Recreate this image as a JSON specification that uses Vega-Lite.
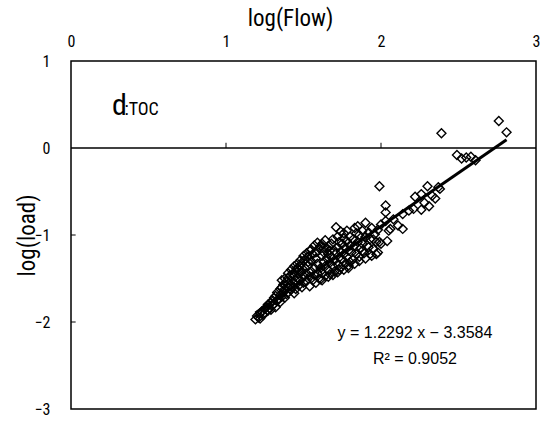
{
  "$schema": "https://vega.github.io/schema/vega-lite/v6.json",
  "width": 465,
  "height": 348,
  "autosize": {"type": "none"},
  "padding": {"left": 71, "top": 61, "right": 9, "bottom": 17},
  "background": "white",
  "config": {
    "view": {"stroke": "black", "strokeWidth": 1.5},
    "font": "Liberation Sans Narrow, Roboto Condensed, Liberation Sans, Arial, sans-serif"
  },
  "data": {"values": [{}]},
  "datasets": {
    "pts": [
      {"x":1.19,"y":-1.97},{"x":1.2,"y":-1.93},{"x":1.21,"y":-1.95},{"x":1.22,"y":-1.9},{"x":1.22,"y":-1.96},{"x":1.23,"y":-1.88},{"x":1.24,"y":-1.92},{"x":1.25,"y":-1.85},{"x":1.25,"y":-1.89},{"x":1.26,"y":-1.83},{"x":1.27,"y":-1.87},{"x":1.27,"y":-1.8},{"x":1.28,"y":-1.84},{"x":1.29,"y":-1.78},{"x":1.29,"y":-1.86},{"x":1.3,"y":-1.75},{"x":1.3,"y":-1.81},{"x":1.31,"y":-1.72},{"x":1.31,"y":-1.79},{"x":1.32,"y":-1.83},
      {"x":1.32,"y":-1.7},{"x":1.33,"y":-1.76},{"x":1.33,"y":-1.66},{"x":1.34,"y":-1.73},{"x":1.35,"y":-1.62},{"x":1.35,"y":-1.69},{"x":1.35,"y":-1.77},{"x":1.36,"y":-1.6},{"x":1.36,"y":-1.71},{"x":1.37,"y":-1.57},{"x":1.37,"y":-1.66},{"x":1.38,"y":-1.62},{"x":1.38,"y":-1.72},{"x":1.39,"y":-1.54},{"x":1.39,"y":-1.68},{"x":1.4,"y":-1.5},{"x":1.4,"y":-1.6},{"x":1.4,"y":-1.66},{"x":1.41,"y":-1.47},{"x":1.41,"y":-1.58},{"x":1.42,"y":-1.63},{"x":1.42,"y":-1.53},{"x":1.43,"y":-1.45},{"x":1.43,"y":-1.6},{"x":1.44,"y":-1.56},{"x":1.44,"y":-1.67},{"x":1.45,"y":-1.41},{"x":1.45,"y":-1.52},{"x":1.45,"y":-1.62},
      {"x":1.46,"y":-1.38},{"x":1.46,"y":-1.49},{"x":1.47,"y":-1.58},{"x":1.47,"y":-1.44},{"x":1.48,"y":-1.35},{"x":1.48,"y":-1.52},{"x":1.49,"y":-1.42},{"x":1.49,"y":-1.6},{"x":1.5,"y":-1.3},{"x":1.5,"y":-1.47},{"x":1.5,"y":-1.55},{"x":1.51,"y":-1.38},{"x":1.52,"y":-1.44},{"x":1.52,"y":-1.53},{"x":1.53,"y":-1.25},{"x":1.53,"y":-1.35},{"x":1.54,"y":-1.18},{"x":1.54,"y":-1.48},{"x":1.54,"y":-1.59},{"x":1.55,"y":-1.3},{"x":1.55,"y":-1.42},{"x":1.56,"y":-1.22},{"x":1.56,"y":-1.52},{"x":1.57,"y":-1.38},{"x":1.57,"y":-1.46},{"x":1.58,"y":-1.27},{"x":1.58,"y":-1.55},{"x":1.59,"y":-1.33},{"x":1.59,"y":-1.44},{"x":1.6,"y":-1.15},{"x":1.6,"y":-1.5},{"x":1.61,"y":-1.13},{"x":1.61,"y":-1.38},{"x":1.61,"y":-1.51},
      {"x":1.62,"y":-1.24},{"x":1.62,"y":-1.44},{"x":1.63,"y":-1.31},{"x":1.63,"y":-1.2},{"x":1.64,"y":-1.47},{"x":1.64,"y":-1.36},{"x":1.65,"y":-1.16},{"x":1.65,"y":-1.27},{"x":1.66,"y":-1.4},{"x":1.66,"y":-1.22},{"x":1.67,"y":-1.45},{"x":1.67,"y":-1.32},{"x":1.68,"y":-1.1},{"x":1.68,"y":-1.25},{"x":1.69,"y":-1.36},{"x":1.7,"y":-1.18},{"x":1.7,"y":-1.29},{"x":1.7,"y":-1.42},{"x":1.71,"y":-0.91},{"x":1.71,"y":-1.21},{"x":1.72,"y":-1.34},{"x":1.72,"y":-1.14},{"x":1.73,"y":-1.26},{"x":1.73,"y":-1.4},{"x":1.74,"y":-0.96},{"x":1.74,"y":-1.19},{"x":1.74,"y":-1.37},{"x":1.75,"y":-1.1},{"x":1.75,"y":-1.28},{"x":1.76,"y":-1.04},{"x":1.76,"y":-1.22},{"x":1.77,"y":-1.33},{"x":1.77,"y":-1.15},{"x":1.78,"y":-1.07},{"x":1.78,"y":-1.25},{"x":1.79,"y":-1.18},{"x":1.79,"y":-1.35},{"x":1.8,"y":-1.02},{"x":1.8,"y":-1.12},{"x":1.8,"y":-1.31},
      {"x":1.81,"y":-1.2},{"x":1.82,"y":-1.05},{"x":1.82,"y":-1.28},{"x":1.83,"y":-1.12},{"x":1.84,"y":-0.98},{"x":1.84,"y":-1.22},{"x":1.85,"y":-1.08},{"x":1.86,"y":-1.25},{"x":1.86,"y":-1.0},{"x":1.87,"y":-1.15},{"x":1.88,"y":-0.95},{"x":1.88,"y":-1.1},{"x":1.89,"y":-1.21},{"x":1.9,"y":-0.86},{"x":1.9,"y":-1.02},{"x":1.91,"y":-1.12},{"x":1.92,"y":-0.97},{"x":1.93,"y":-1.22},{"x":1.93,"y":-1.05},{"x":1.94,"y":-0.92},{"x":1.95,"y":-1.16},{"x":1.96,"y":-0.99},{"x":1.97,"y":-1.08},{"x":1.98,"y":-1.2},{"x":1.98,"y":-0.94},{"x":1.99,"y":-0.44},{"x":1.99,"y":-1.08},{"x":2.0,"y":-0.88},
      {"x":1.36,"y":-1.52},{"x":1.38,"y":-1.5},{"x":1.4,"y":-1.44},{"x":1.42,"y":-1.4},{"x":1.44,"y":-1.36},{"x":1.46,"y":-1.33},{"x":1.48,"y":-1.29},{"x":1.5,"y":-1.24},{"x":1.52,"y":-1.21},{"x":1.55,"y":-1.17},{"x":1.57,"y":-1.12},{"x":1.59,"y":-1.09},{"x":1.62,"y":-1.1},{"x":1.64,"y":-1.06},{"x":1.66,"y":-1.13},{"x":1.69,"y":-1.05},{"x":1.72,"y":-1.02},{"x":1.58,"y":-1.2},{"x":1.51,"y":-1.28},{"x":1.44,"y":-1.46},{"x":1.47,"y":-1.4},{"x":1.53,"y":-1.31},{"x":1.63,"y":-1.15},{"x":1.67,"y":-1.18},{"x":1.73,"y":-1.08},{"x":1.76,"y":-0.98},{"x":1.78,"y":-0.95},{"x":1.83,"y":-0.92},{"x":1.85,"y":-0.9},
      {"x":1.62,"y":-1.52},{"x":1.66,"y":-1.48},{"x":1.69,"y":-1.46},{"x":1.72,"y":-1.43},{"x":1.76,"y":-1.4},{"x":1.79,"y":-1.38},{"x":1.83,"y":-1.33},{"x":1.86,"y":-1.3},{"x":1.9,"y":-1.27},{"x":1.94,"y":-1.24},{"x":1.97,"y":-1.22},{"x":2.0,"y":-1.1},{"x":1.88,"y":-1.18},{"x":1.92,"y":-1.14},{"x":1.95,"y":-1.05},
      {"x":2.03,"y":-0.66},{"x":2.03,"y":-0.74},{"x":2.03,"y":-0.84},{"x":2.04,"y":-1.07},{"x":2.05,"y":-0.95},{"x":2.06,"y":-0.93},{"x":2.08,"y":-0.82},{"x":2.11,"y":-0.89},{"x":2.14,"y":-0.76},{"x":2.14,"y":-0.93},{"x":2.18,"y":-0.72},{"x":2.21,"y":-0.7},{"x":2.22,"y":-0.56},{"x":2.26,"y":-0.53},{"x":2.26,"y":-0.71},{"x":2.28,"y":-0.63},{"x":2.3,"y":-0.44},{"x":2.31,"y":-0.67},{"x":2.33,"y":-0.55},{"x":2.35,"y":-0.58},{"x":2.37,"y":-0.45},{"x":2.38,"y":-0.47},{"x":2.39,"y":0.17},
      {"x":2.49,"y":-0.08},{"x":2.52,"y":-0.12},{"x":2.55,"y":-0.11},{"x":2.58,"y":-0.1},{"x":2.61,"y":-0.14},{"x":2.76,"y":0.31},{"x":2.81,"y":0.18}
    ],
    "fit": [{"x":1.19,"y":-1.896},{"x":2.81,"y":0.0957}],
    "xticks": [{"t":1},{"t":2}],
    "yticks": [{"t":-1},{"t":-2}]
  },
  "layer": [
    {
      "data": {"name": "pts"},
      "mark": {"type": "point", "shape": "diamond", "filled": false, "stroke": "black", "strokeWidth": 1.4, "size": 80, "opacity": 1},
      "encoding": {
        "x": {"field": "x", "type": "quantitative", "scale": {"domain": [0, 3], "nice": false, "zero": false},
          "axis": {"orient": "top", "title": "log(Flow)", "values": [0, 1, 2, 3], "format": "d", "domain": false, "ticks": false, "grid": false,
            "labelFontSize": 16, "labelColor": "black", "labelPadding": 12, "labelFlush": false,
            "titleFontSize": 23, "titleFontWeight": "normal", "titleColor": "black", "titlePadding": 3, "titleX": 219}},
        "y": {"field": "y", "type": "quantitative", "scale": {"domain": [-3, 1], "nice": false, "zero": false},
          "axis": {"orient": "left", "title": "log(load)", "values": [-3, -2, -1, 0, 1], "format": "d", "domain": false, "ticks": false, "grid": false,
            "labelFontSize": 16, "labelColor": "black", "labelPadding": 21, "labelFlush": false,
            "titleFontSize": 23, "titleFontWeight": "normal", "titleColor": "black", "titleX": -44, "titleBaseline": "middle", "titleAlign": "center"}}
      }
    },
    {
      "mark": {"type": "rule", "color": "black", "strokeWidth": 1.5},
      "encoding": {"y": {"datum": 0}}
    },
    {
      "data": {"name": "xticks"},
      "mark": {"type": "rule", "color": "black", "strokeWidth": 1},
      "encoding": {"x": {"field": "t", "type": "quantitative"}, "y": {"datum": 0}, "y2": {"datum": 0.06}}
    },
    {
      "data": {"name": "yticks"},
      "mark": {"type": "rule", "color": "black", "strokeWidth": 1},
      "encoding": {"y": {"field": "t", "type": "quantitative"}, "x": {"datum": 0}, "x2": {"datum": 0.03}}
    },
    {
      "data": {"name": "fit"},
      "mark": {"type": "line", "color": "black", "strokeWidth": 3},
      "encoding": {"x": {"field": "x", "type": "quantitative"}, "y": {"field": "y", "type": "quantitative"}}
    },
    {
      "mark": {"type": "text", "text": "d", "fontSize": 30, "align": "left", "baseline": "alphabetic", "color": "black"},
      "encoding": {"x": {"datum": 0.2645}, "y": {"datum": 0.379}}
    },
    {
      "mark": {"type": "text", "text": ":TOC", "fontSize": 18, "align": "left", "baseline": "alphabetic", "color": "black"},
      "encoding": {"x": {"datum": 0.345}, "y": {"datum": 0.379}}
    },
    {
      "mark": {"type": "text", "text": "y = 1.2292 x − 3.3584", "font": "Liberation Sans, Arial, sans-serif", "fontSize": 16, "align": "center", "baseline": "middle", "color": "black"},
      "encoding": {"x": {"datum": 2.219}, "y": {"datum": -2.126}}
    },
    {
      "mark": {"type": "text", "text": "R² = 0.9052", "font": "Liberation Sans, Arial, sans-serif", "fontSize": 16, "align": "center", "baseline": "middle", "color": "black"},
      "encoding": {"x": {"datum": 2.219}, "y": {"datum": -2.425}}
    }
  ]
}
